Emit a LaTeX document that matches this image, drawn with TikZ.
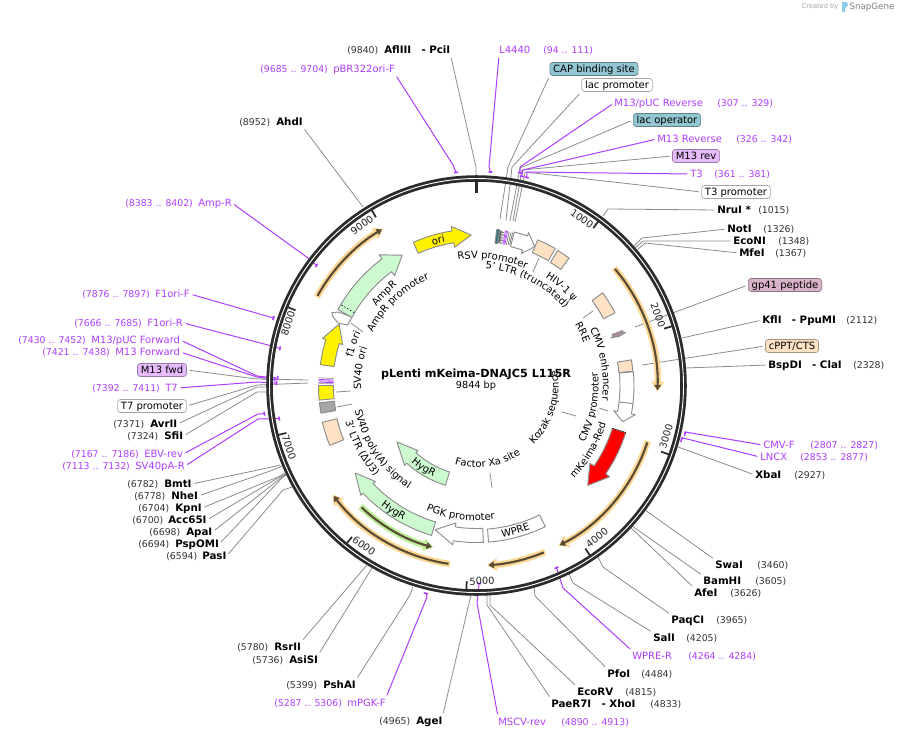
\documentclass[tikz,border=0pt]{standalone}
\usepackage{xcolor}
\usepackage{fontspec}
\setmainfont{DejaVu Sans}
\usepackage{tikz}
\usetikzlibrary{arrows.meta, decorations.text}

\definecolor{primercol}{HTML}{AE3EFF}
\definecolor{linecol}{HTML}{8C8C8C}
\definecolor{ringcol}{HTML}{2B2B2B}
\definecolor{peach}{HTML}{FDE2C4}
\definecolor{mint}{HTML}{CDF9CF}
\definecolor{tealbox}{HTML}{93C6D2}
\definecolor{tealdark}{HTML}{2F7484}
\definecolor{mauvebox}{HTML}{E5BBFC}
\definecolor{pinkbox}{HTML}{D8B2C8}
\definecolor{hlorange}{HTML}{FCD795}
\definecolor{hlgreen}{HTML}{BDF09A}
\definecolor{shaftcol}{HTML}{5A4B34}
\definecolor{logoblue}{HTML}{8CCBEA}

\newcommand{\curvefont}{\fontsize{7.5}{9}\selectfont}
\tikzstyle{site} = [font=\fontsize{7.7}{9}\selectfont\bfseries, anchor=west, inner sep=0pt, text height=6pt, text depth=1.5pt]
\tikzstyle{oligo} = [font=\fontsize{7.5}{9}\selectfont, text=primercol, anchor=west, inner sep=0pt, text height=6pt, text depth=1.5pt]
\tikzstyle{coord} = [font=\fontsize{7}{9}\selectfont, text=black!80, anchor=west, inner sep=0pt, text height=6pt, text depth=1.5pt]
\tikzstyle{oligocoord} = [coord, text=primercol]
\tikzstyle{tag} = [rectangle, rounded corners=2.2pt, line width=0.5pt, font=\fontsize{7.5}{9}\selectfont, inner xsep=2.5pt, inner ysep=0pt, minimum height=9.8pt, text height=6pt, text depth=1.5pt]
\tikzstyle{ticktext} = [font=\fontsize{7.4}{9}\selectfont, inner sep=0pt, text=black!85]
\tikzstyle{cutline} = [draw=linecol, line width=0.6pt, shorten <=2pt]
\tikzstyle{oligoline} = [draw=primercol, line width=0.75pt, shorten <=2pt]
\tikzstyle{oligobar} = [draw=primercol, line width=1.2pt, line cap=rect]
\tikzstyle{feat} = [draw=linecol, line width=0.7pt, line join=round]

% tail angle, head base angle, tip angle, radius, width, head width
\newcommand{\featarrow}[7][white]{
  \draw[feat, fill=#1] (#2:#5+#6/2) arc[start angle=#2, end angle=#3, radius=#5+#6/2]
    -- (#3:#5+#7/2) -- (#4:#5) -- (#3:#5-#7/2) -- (#3:#5-#6/2)
    arc[start angle=#3, end angle=#2, radius=#5-#6/2] -- cycle;
}
\newcommand{\featbox}[5][white]{
  \draw[feat, fill=#1] (#2:#4+#5/2) arc[start angle=#2, end angle=#3, radius=#4+#5/2]
    -- (#3:#4-#5/2) arc[start angle=#3, end angle=#2, radius=#4-#5/2] -- cycle;
}
\newcommand{\glowarrow}[4][hlorange]{
  \draw[#1, line width=4.8pt, -{Triangle[length=7.5pt, width=9pt]}] (#2:#4) arc[start angle=#2, end angle=#3, radius=#4];
  \draw[shaftcol, line width=1.6pt, shorten <=1pt, shorten >=1.2pt, -{Triangle[length=4pt, width=5pt]}] (#2:#4) arc[start angle=#2, end angle=#3, radius=#4];
}
% curved labels: text, baseline radius, middle angle
\newcommand{\cwtext}[3]{
  \begin{scope}[yscale=-1]
    \pgfmathsetmacro{\angA}{-(#3)+50}
    \pgfmathsetmacro{\angB}{-(#3)-50}
    \path[decorate, decoration={text along path, text align=center, text={|\curvefont|#1}}]
      (\angA:#2) arc[start angle=\angA, end angle=\angB, radius=#2];
  \end{scope}
}
\newcommand{\ccwtext}[3]{
  \begin{scope}[yscale=-1]
    \pgfmathsetmacro{\angA}{-(#3)-50}
    \pgfmathsetmacro{\angB}{-(#3)+50}
    \path[decorate, decoration={text along path, text align=center, text={|\curvefont|#1}}]
      (\angA:#2) arc[start angle=\angA, end angle=\angB, radius=#2];
  \end{scope}
}

\begin{document}
\begin{tikzpicture}[x=0.75pt, y=0.75pt, yscale=-1]
    \fill[white] (0,0) rectangle (899,739);
    \useasboundingbox (0,0) rectangle (899,739);
    \coordinate (ctr) at (476.5,385.5);

    % enzyme sites
    \foreach \nm/\x/\y/\lbl/\nx/\num in {
        pci/384/50/{AflIII\hspace{5pt} - PciI}/347/9840, ahd/276/122/AhdI/239/8952,
        nru/717/210/{NruI *}/758/1015, not/727/229/NotI/763/1326,
        econi/733/241/EcoNI/778/1348, mfe/739/253/MfeI/775/1367,
        ppu/762/320/{KflI\hspace{5pt} - PpuMI}/846/2112, cla/768/365/{BspDI\hspace{5pt} - ClaI}/853/2328,
        xba/755/475/XbaI/794/2927, swa/715/565/SwaI/757/3460,
        bam/703/581/BamHI/755/3605, afe/694/593/AfeI/730/3626,
        paq/671/620/PaqCI/716/3965, sal/653/638/SalI/686/4205,
        pfo/607/674/PfoI/641/4484, ecorv/577/692/EcoRV/625/4815,
        xho/551/704/{PaeR7I\hspace{5pt} - XhoI}/650/4833, avr/150/424/AvrII/113/7371,
        sfi/164/436/SfiI/127/7324, bmt/164/484/BmtI/127/6782,
        nhe/171/496/NheI/134/6778, kpn/175/508/KpnI/138/6704,
        acc/168/520/Acc65I/132/6700, apa/186/532/ApaI/149/6698,
        psp/175/544/PspOMI/138/6694, pas/202/556/PasI/166/6594,
        rsr/274/647/RsrII/237/5780, asi/289/660/AsiSI/252/5736,
        psh/323/685/PshAI/286/5399, age/416/721/AgeI/379/4965}
        {
        \node (\nm) [site] at (\x,\y) {\lbl};
        \node (\nm n) [coord] at (\nx,\y) {(\num)};
    }

    % oligos
    \foreach \nm/\x/\y/\lbl/\nx/\num in {
        pbr/333/69/pBR322ori-F/260/9685 .. 9704, lfour/499/50/L4440/543/94 .. 111,
        mpr/614/103/{M13/pUC Reverse}/717/307 .. 329, mrv/657/139/M13 Reverse/736/326 .. 342,
        tthree/690/174/T3/714/361 .. 381, cmvf/763/445/CMV-F/810/2807 .. 2827,
        lncx/760/457/LNCX/800/2853 .. 2877, wprer/632/656/WPRE-R/688/4264 .. 4284,
        mscv/498/722/MSCV-rev/561/4890 .. 4913, mpgk/347/703/mPGK-F/274/5287 .. 5306,
        svr/135/466/SV40pA-R/62/7113 .. 7132, ebv/144/454/EBV-rev/71/7167 .. 7186,
        tseven/165/388/T7/92/7392 .. 7411, mfw/115/352/M13 Forward/42/7421 .. 7438,
        mpf/91/340/{M13/pUC Forward}/18/7430 .. 7452, fr/147/323/F1ori-R/74/7666 .. 7685,
        ff/155/294/F1ori-F/82/7876 .. 7897, amp/198/203/Amp-R/125/8383 .. 8402}
        {
        \node (\nm) [oligo] at (\x,\y) {\lbl};
        \node (\nm n) [oligocoord] at (\nx,\y) {(\num)};
    }

    % feature tags
    \foreach \nm/\x/\y/\lbl/\col in {
        cap/594/69/CAP binding site/tealbox, lacp/617/85/lac promoter/white,
        laco/667/120/lac operator/tealbox, mrev/696/156/M13 rev/mauvebox,
        ttp/736/192/T3 promoter/white, gp/785/285/gp41 peptide/pinkbox,
        cppt/792/346/{cPPT/CTS\hspace{9pt}}/peach, mfwd/162/370/M13 fwd/mauvebox,
        tsp/152/406/T7 promoter/white}
        \node (\nm) [tag, fill=\col, draw=\col!65!black] at (\x,\y) {\lbl};

    % connectors of sites and tags
    \foreach \nm/\side/\ex/\ey/\rx/\ry in {
        pci/south east/476/167/476/176, ahd/south east/363/207/363/207,
        nru/west/608/209/603/216, not/west/642/238/633/247,
        econi/west/643/241/635/248, mfe/west/645/243/637/250,
        ppu/west/682/338/682/338, cla/west/685/368/685/368,
        xba/west/678/447/678/447, swa/north west/645/510/645/510,
        bam/north west/632/526/632/526, afe/north west/630/527/630/527,
        paq/north west/603/567/598/557, sal/north west/573/583/569/574,
        pfo/north west/535/596/534/587, ecorv/north west/490/605/490/595,
        xho/north west/487/605/487/595, avr/east/257/387/267/387,
        sfi/east/257/392/267/392, bmt/east/272/467/280/465,
        nhe/east/273/470/282/466, kpn/east/278/477/285/473,
        acc/east/278/478/286/474, apa/east/282/477/287/474,
        psp/east/283/477/288/474, pas/east/283/490/292/487,
        rsr/north east/367/565/367/565, asi/north east/372/568/372/568,
        psh/north east/410/595/413/587, age/north east/471/595/471/595,
        cap/south west/508/167/500/219, lacp/south west/512/167/506/220,
        laco/west/520/168/510/221, mrev/west/522/170/513/221,
        ttp/west/525/172/515/222, gp/west/635/327/635/327,
        cppt/west/642/365/642/365, mfwd/east/257/379/308/380,
        tsp/east/257/385/308/383}
        {
        \coordinate (\nm e) at (\ex,\ey);
        \coordinate (\nm r) at (\rx,\ry);
        \draw [cutline] (\nm.\side) -- (\nm e) -- (\nm r);
    }

    % short leaders of the curved labels
    \foreach \nm/\xa/\ya/\xb/\yb in {
        ltr/539/258/533/272, rre/593/311/583/318, cmvp/599/408/608/411,
        koz/562/412/576/416, fxa/490/473/492/488, svo/336/392/351/391,
        svp/337/407/352/404, apr/351/323/363/332}
        {
        \coordinate (\nm a) at (\xa,\ya);
        \coordinate (\nm b) at (\xb,\yb);
        \draw [cutline, shorten <=0pt] (\nm a) -- (\nm b);
    }

    % connectors and bars of oligos
    \foreach \nm/\side/\ex/\ey/\pa/\pb/\r in {
        pbr/south east/453/165/9685/9704/214, lfour/south west/489/167/94/111/214,
        mpr/west/520/167/307/329/217, mrv/west/523/170/326/342/214,
        tthree/west/527/172/361/381/214, cmvf/west/685/432/2807/2827/214,
        lncx/west/683/438/2853/2877/212, wprer/north west/563/588/4264/4284/199,
        mscv/north west/477/603/4890/4913/198, mpgk/north east/427/597/5287/5306/214,
        svr/east/258/419/7113/7132/200, ebv/east/258/414/7167/7186/214,
        tseven/east/257/382/7392/7411/200, mfw/east/257/377/7421/7438/202,
        mpf/east/257/376/7430/7452/199, fr/east/268/345/7666/7685/200,
        ff/east/270/317/7876/7897/214, amp/east/308/258/8383/8402/200}
        {
        \pgfmathsetmacro{\angP}{\pa/9844*360-90}
        \pgfmathsetmacro{\angQ}{\pb/9844*360-90}
        \pgfmathsetmacro{\angM}{(\angP+\angQ)/2}
        \coordinate (\nm e) at (\ex,\ey);
        \path[shift={(ctr)}] (\angM:\r) coordinate (\nm r);
        \draw [oligoline] (\nm.\side) -- (\nm e) -- (\nm r);
        \draw [oligobar, shift={(ctr)}] (\angP:\r) arc[start angle=\angP, end angle=\angQ, radius=\r];
    }

    % backbone
    \begin{scope}[shift={(ctr)}]
        \draw[ringcol, line width=4.9pt] (0,0) circle[radius=207];
        \draw[white, line width=0.7pt] (0,0) circle[radius=207];
        \draw[ringcol, line width=2pt] (-90:192.5) -- (-90:205);
        \foreach \p in {1000,2000,...,9000} {
            \pgfmathsetmacro{\angT}{\p/9844*360-90}
            \draw[ringcol, line width=1.3pt] (\angT:196) -- (\angT:205);
        }

        % highlighted arrows
        \glowarrow{-40.5}{2}{181}
        \glowarrow{18}{63}{180}
        \glowarrow{67.6}{86.7}{180}
        \glowarrow{98.5}{142.8}{180.5}
        \glowarrow{209}{239.3}{182.5}
        \glowarrow[hlgreen]{133.8}{104.9}{167.5}

        % features on the outer lane
        \featarrow[yellow]{246.2}{261}{268}{150.5}{12}{21}
        \featarrow[yellow]{187.6}{197}{204.1}{150.5}{14}{21}
        \featbox[yellow]{174.7}{180}{150.5}{15}
        \featbox[black!35]{169.9}{173.7}{150.5}{15}
        \featbox[peach]{157.8}{166.6}{151}{15}
        \foreach \t in {181.2,181.7,182.2}
            \draw[primercol, line width=0.6pt] (\t:143) -- (\t:158);
        \foreach \t in {180.7,182.8}
            \draw[linecol, line width=0.5pt] (\t:143) -- (\t:158);

        \featarrow{-76.2}{-71.2}{-67.2}{150.5}{15}{22}
        \featbox[peach]{-67.2}{-60.1}{151}{14}
        \featbox[peach]{-59}{-54}{150.5}{14}
        \featbox[peach]{-36.3}{-27.7}{150}{13}
        \featarrow[pinkbox!80!black]{-20.6}{-19.6}{-19}{150.5}{11}{16}
        \featbox[peach]{-9.4}{-5.2}{150}{14}
        \featarrow{-5}{10.4}{13.9}{150.5}{14}{22}
        \draw[feat] (6.6:143.5) -- (6.6:157.5);
        \featarrow[red]{17.5}{34.4}{41.9}{149.5}{14}{24}
        \draw[black, line width=0.5pt, dash pattern=on 1pt off 1pt] (17.5:142.5) -- (17.5:156.5);
        \featbox{64}{85.6}{150.5}{13}
        \featarrow{87.5}{98.5}{106}{150}{14}{22}
        \featarrow[mint]{106.7}{136.5}{144.2}{149.5}{14}{20}
        \featarrow[mint]{107.3}{132}{144.6}{97.5}{14}{20}

        % stack of small features before the RSV promoter
        \featbox[tealdark]{-82.6}{-81.5}{150.5}{14}
        \featbox[black!60]{-81.5}{-80.7}{150.5}{12}
        \foreach \t in {-80.3,-79.9}
            \draw[black!70, line width=0.5pt, dash pattern=on 1pt off 1pt] (\t:144) -- (\t:157);
        \foreach \t in {-79.4,-79,-78.6}
            \draw[primercol, line width=0.5pt] (\t:143.5) -- (\t:157.5);
        \foreach \t in {-78,-77.3,-76.7}
            \draw[black!55, line width=0.5pt] (\t:144) -- (\t:157);

        % curved labels
        \cwtext{RSV promoter}{127}{-82.7}
        \cwtext{5' LTR (truncated)}{117}{-63.3}
        \cwtext{HIV-1 ψ}{128}{-49.2}
        \cwtext{RRE}{115.5}{-26.6}
        \cwtext{CMV enhancer}{126.5}{-9.8}
        \cwtext{f1 ori}{127}{198.4}
        \cwtext{SV40 ori}{115.5}{188.4}
        \cwtext{AmpR promoter}{116.5}{226.5}
        \cwtext{AmpR}{127.5}{224.9}
        \cwtext{ori}{146.5}{255.2}
        \ccwtext{CMV promoter}{122}{10.8}
        \ccwtext{mKeima-Red}{135}{29.9}
        \ccwtext{Kozak sequence}{82}{17.6}
        \ccwtext{Factor Xa site}{82}{81.4}
        \ccwtext{PGK promoter}{135}{97}
        \ccwtext{SV40 poly(A) signal}{124}{146}
        \ccwtext{3' LTR (ΔU3)}{136}{151.5}
        \ccwtext{HygR}{153.5}{123.5}
        \ccwtext{HygR}{101}{122.8}
        \ccwtext{WPRE}{154}{75}
    \end{scope}

    % AmpR promoter and AmpR
    \draw[feat, fill=white] (331.7,312.7) -- (338,312) -- (352,317) -- (347.7,325) -- (338,323) -- (333,317) -- cycle;
    \begin{scope}[shift={(ctr)}]
        \featarrow[mint]{208.7}{233.3}{240.3}{150}{16}{26}
        \draw[black, line width=0.5pt, dash pattern=on 1pt off 1.5pt] (210.8:142.5) -- (210.8:157.5);
    \end{scope}

    % position marks
    \foreach \p/\x/\y/\rot in {
        1000/582/219/-34, 2000/658/315/-70, 3000/666/436/73, 4000/597/538/38,
        5000/482/581/2, 6000/364/546/-35, 7000/289/447/-72, 8000/288/323/72, 9000/362/225/35}
        \node (tick\p) [ticktext, rotate=\rot] at (\x,\y) {\p};

    % centre title
    \node (title) [font=\fontsize{8.4}{10}\selectfont\bfseries, inner sep=0pt] at (476,374) {pLenti mKeima-DNAJC5 L115R};
    \node (size) [font=\fontsize{7.3}{9}\selectfont, inner sep=0pt] at (476,386) {9844 bp};

    % watermark
    \node (made) [font=\fontsize{5}{6}\selectfont, text=black!35, inner sep=0pt] at (820,7) {Created by};
    \node (brand) [font=\fontsize{6.5}{8}\selectfont, text=black!50, inner sep=0pt] at (872,7) {SnapGene};
    \fill[logoblue] (842,2) -- (847,2) .. controls (849,4) and (848,7) .. (845,8) -- (845,12) -- (842,12) -- cycle;
\end{tikzpicture}
\end{document}
